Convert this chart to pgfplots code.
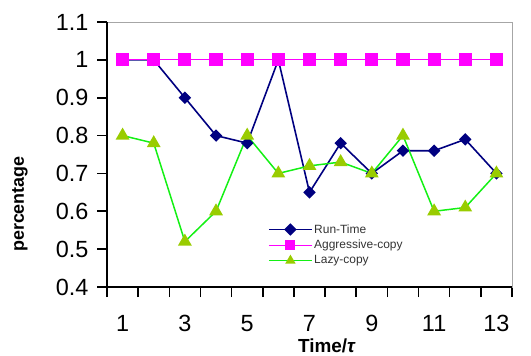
\documentclass[border=0pt]{standalone}
\usepackage{pgfplots}
\pgfplotsset{compat=1.18}
\usepackage{fontspec}
\setmainfont{Liberation Sans}
\definecolor{rtnavy}{RGB}{0,0,128}
\definecolor{agmag}{RGB}{255,0,255}
\definecolor{lzline}{RGB}{20,240,20}
\definecolor{lzmark}{RGB}{153,204,0}
\begin{document}
\begin{tikzpicture}
\useasboundingbox (0,0) rectangle (531bp,356bp);
\clip (0,0) rectangle (531bp,356bp);
\begin{axis}[
  at={(107bp,69bp)}, anchor=south west,
  scale only axis, width=405bp, height=265bp,
  xmin=0.5, xmax=13.5, ymin=0.4, ymax=1.1,
  clip=false,
  /pgf/number format/assume math mode=true,
  xtick={1,3,5,7,9,11,13},
  minor xtick={0.5,1.5,...,13.5},
  ytick={0.4,0.5,0.6,0.7,0.8,0.9,1,1.1},
  yticklabels={0.4,0.5,0.6,0.7,0.8,0.9,1,1.1},
  tick pos=left,
  tick align=outside,
  major tick length=10bp, minor tick length=10bp,
  major x tick style={draw=none},
  every tick/.style={black, line width=1.6pt},
  x tick label style={font=\fontsize{23.5}{26}\selectfont, yshift=-15bp},
  y tick label style={font=\fontsize{23.5}{26}\selectfont, xshift=-5bp},
  axis line style={draw=gray!70, line width=0.8pt},
  after end axis/.code={\draw[black, line width=2pt] (rel axis cs:0,1) -- (rel axis cs:0,0) -- (rel axis cs:1,0);},
  every axis y label/.style={at={(axis description cs:-0.215,0.313)}, rotate=90, anchor=center},
  ylabel={\bfseries\fontsize{18}{20}\selectfont percentage},
  every axis x label/.style={at={(axis description cs:0.543,-0.246)}, anchor=base},
  xlabel={\bfseries\fontsize{19}{20}\selectfont Time/\textit{τ}},
  legend style={at={(axis description cs:0.39,0.25)}, anchor=north west, draw=none, fill=none,
    font=\fontsize{12}{13}\selectfont, text=black!80, row sep=2.5bp, nodes={inner sep=1.5pt}},
  legend cell align=left,
  legend image code/.code={\draw[mark repeat=2,mark phase=2,#1] plot coordinates {(0bp,0bp) (21.5bp,0bp) (43bp,0bp)};},
]
\addplot[color=rtnavy, line width=1.6pt, mark=square*, mark size=3.6bp, mark options={fill=rtnavy, draw=rtnavy, rotate=45}]
  coordinates {(1,1.0) (2,1.0) (3,0.9) (4,0.8) (5,0.78) (6,1.0) (7,0.65) (8,0.78) (9,0.70) (10,0.76) (11,0.76) (12,0.79) (13,0.70)};
\addlegendentry{Run-Time}
\addplot[color=agmag, line width=1.1pt, mark=square*, mark size=6bp, mark options={fill=agmag, draw=agmag}, legend image post style={mark size=4.5bp}]
  coordinates {(1,1) (2,1) (3,1) (4,1) (5,1) (6,1) (7,1) (8,1) (9,1) (10,1) (11,1) (12,1) (13,1)};
\addlegendentry{Aggressive-copy}
\addplot[color=lzline, line width=1.5pt, mark=triangle*, mark size=6.5bp, mark options={fill=lzmark, draw=lzmark}, legend image post style={mark size=4.5bp}]
  coordinates {(1,0.80) (2,0.78) (3,0.52) (4,0.60) (5,0.80) (6,0.70) (7,0.72) (8,0.73) (9,0.70) (10,0.80) (11,0.60) (12,0.61) (13,0.70)};
\addlegendentry{Lazy-copy}
\end{axis}
\end{tikzpicture}
\end{document}
